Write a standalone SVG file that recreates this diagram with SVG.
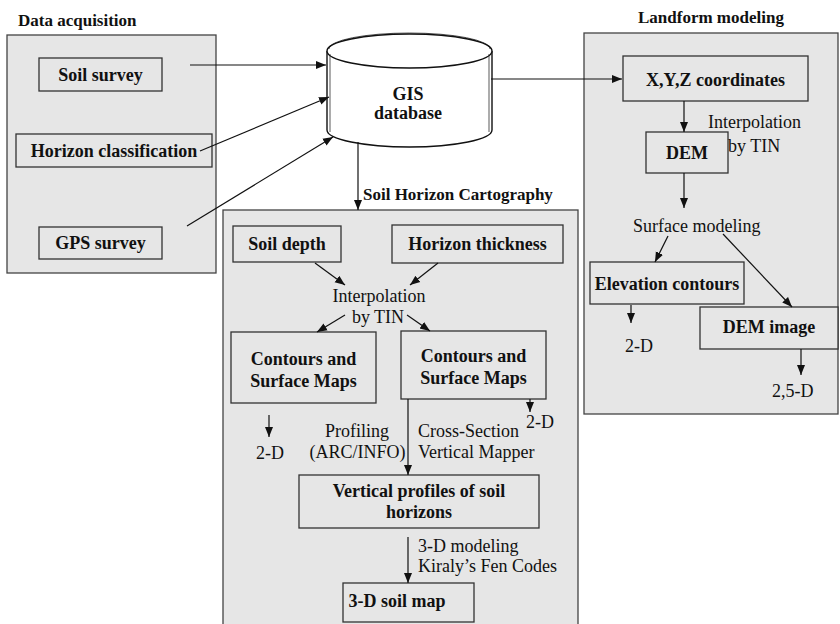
<svg xmlns="http://www.w3.org/2000/svg" width="840" height="624" viewBox="0 0 840 624">
<defs>
<marker id="ah" viewBox="0 0 10 10" refX="10" refY="5" markerWidth="10" markerHeight="10" markerUnits="userSpaceOnUse" orient="auto"><path d="M0,1 L10,5 L0,9 z" fill="#111"/></marker>
</defs>
<style>
.panel{fill:#e6e6e6;stroke:#444;stroke-width:1.3}
.box{fill:#e6e6e6;stroke:#333;stroke-width:1.3}
.b{font-family:"Liberation Serif","Times New Roman",serif;font-weight:bold;font-size:18px;fill:#111}
.t{font-family:"Liberation Serif","Times New Roman",serif;font-size:18px;fill:#111}
.ti{font-family:"Liberation Serif","Times New Roman",serif;font-weight:bold;font-size:17px;fill:#111}
.m{text-anchor:middle}
#connectors line{stroke:#111;stroke-width:1.2;fill:none;marker-end:url(#ah)}
</style>
<rect width="840" height="624" fill="#fff"/>

<g id="panel-data">
<rect class="panel" x="7" y="35" width="209" height="238"/>
<text class="ti" x="18" y="26">Data acquisition</text>
</g>
<g id="panel-soil">
<rect class="panel" x="223" y="210" width="355" height="430"/>
<text class="ti" x="363" y="200">Soil Horizon Cartography</text>
</g>
<g id="panel-landform">
<rect class="panel" x="584" y="33" width="254" height="381"/>
<text class="ti" x="638" y="23">Landform modeling</text>
</g>

<g id="soil-survey"><rect class="box" x="39" y="58" width="123" height="33"/><text class="b m" x="100.5" y="81">Soil survey</text></g>
<g id="horizon-classification"><rect class="box" x="16" y="134" width="196" height="33"/><text class="b m" x="114" y="157">Horizon classification</text></g>
<g id="gps-survey"><rect class="box" x="39" y="227" width="123" height="32"/><text class="b m" x="100.5" y="249">GPS survey</text></g>

<g id="gis-database">
<path d="M327,51 L327,130 A82.5,17 0 0 0 492,130 L492,51" fill="#fff" stroke="#111" stroke-width="1.4"/>
<ellipse cx="409.5" cy="51" rx="82.5" ry="17" fill="#fff" stroke="#111" stroke-width="1.4"/>
<path d="M330,54 L330,132 M489,54 L489,132" fill="none" stroke="#111" stroke-width="0.7"/>
<path d="M329,49 A80.5,16 0 0 1 490,49" fill="none" stroke="#111" stroke-width="0.7"/>
<text class="b m" x="408" y="100">GIS</text>
<text class="b m" x="408" y="119">database</text>
</g>

<g id="xyz"><rect class="box" x="623" y="56" width="185" height="45"/><text class="b m" x="715.5" y="86">X,Y,Z coordinates</text></g>
<g id="dem"><rect class="box" x="646" y="132" width="82" height="41"/><text class="b m" x="687" y="159">DEM</text></g>
<g id="elevation-contours"><rect class="box" x="590" y="262" width="154" height="42"/><text class="b m" x="667" y="290">Elevation contours</text></g>
<g id="dem-image"><rect class="box" x="700" y="307" width="138" height="42"/><text class="b m" x="769" y="333">DEM image</text></g>
<g id="landform-labels">
<text class="t" x="708" y="128">Interpolation</text>
<text class="t" x="728" y="152">by TIN</text>
<text class="t" x="633" y="232">Surface modeling</text>
<text class="t" x="625" y="352">2-D</text>
<text class="t" x="772" y="397">2,5-D</text>
</g>

<g id="soil-depth"><rect class="box" x="233" y="226" width="108" height="36"/><text class="b m" x="287" y="250">Soil depth</text></g>
<g id="horizon-thickness"><rect class="box" x="392" y="225" width="171" height="38"/><text class="b m" x="477.5" y="250">Horizon thickness</text></g>
<g id="contours-left"><rect class="box" x="231" y="332" width="145" height="71"/><text class="b m" x="303.5" y="365">Contours and</text><text class="b m" x="303.5" y="387">Surface Maps</text></g>
<g id="contours-right"><rect class="box" x="401" y="331" width="145" height="68"/><text class="b m" x="473.5" y="362">Contours and</text><text class="b m" x="473.5" y="384">Surface Maps</text></g>
<g id="vertical-profiles"><rect class="box" x="299" y="475" width="240" height="53"/><text class="b m" x="419" y="497">Vertical profiles of soil</text><text class="b m" x="419" y="518">horizons</text></g>
<g id="soil-map-3d"><rect class="box" x="343" y="583" width="131" height="39"/><text class="b m" x="397" y="607">3-D soil map</text></g>
<g id="soil-labels">
<text class="t m" x="379" y="302">Interpolation</text>
<text class="t m" x="378" y="323">by TIN</text>
<text class="t m" x="270" y="459">2-D</text>
<text class="t" x="526" y="428">2-D</text>
<text class="t m" x="357" y="437">Profiling</text>
<text class="t m" x="357.5" y="458">(ARC/INFO)</text>
<text class="t" x="418" y="437">Cross-Section</text>
<text class="t" x="418" y="458">Vertical Mapper</text>
<text class="t" x="418" y="552">3-D modeling</text>
<text class="t" x="418" y="572">Kiraly’s Fen Codes</text>
</g>

<g id="connectors">
<line x1="190" y1="65" x2="326" y2="65"/>
<line x1="200" y1="151" x2="329" y2="97"/>
<line x1="187" y1="226" x2="333" y2="137"/>
<line x1="491" y1="79" x2="622" y2="79"/>
<line x1="358" y1="142" x2="358" y2="210"/>
<line x1="684" y1="101" x2="684" y2="132"/>
<line x1="684" y1="173" x2="684" y2="208"/>
<line x1="668" y1="236" x2="655" y2="262"/>
<line x1="723" y1="234" x2="792" y2="307"/>
<line x1="631" y1="305" x2="631" y2="323"/>
<line x1="801" y1="349" x2="801" y2="375"/>
<line x1="315" y1="263" x2="345" y2="285"/>
<line x1="438" y1="263" x2="410" y2="285"/>
<line x1="345" y1="315" x2="317" y2="332"/>
<line x1="407" y1="315" x2="430" y2="331"/>
<line x1="269" y1="415" x2="269" y2="437"/>
<line x1="530" y1="399" x2="530" y2="412"/>
<line x1="408" y1="399" x2="408" y2="475"/>
<line x1="408" y1="537" x2="408" y2="583"/>
</g>
</svg>
